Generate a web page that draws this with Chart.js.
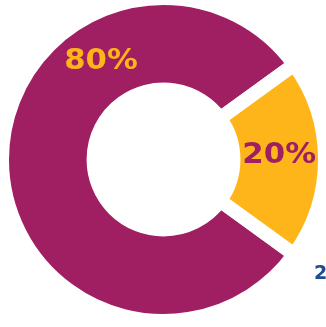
<!DOCTYPE html>
<html><head><meta charset="utf-8">
<script src="https://cdn.jsdelivr.net/npm/chart.js@4/dist/chart.umd.min.js"></script>
<style>
html,body{margin:0;padding:0;width:326px;height:327px;overflow:hidden;background:#fff;}
#wrap{position:absolute;left:-5px;top:-9px;width:337px;height:337px;}
#frag{position:absolute;left:314px;top:261px;font:bold 19px "DejaVu Sans";color:#1C4E91;white-space:nowrap;}
</style></head><body>
<div id="wrap"><canvas id="c"></canvas></div>
<div id="frag">2</div>
<script>
const categories = ['80%', '20%'];
const values = [80, 20];
const valueLabels = ['80%', '20%'];
const sliceColors = ['#A01F62', '#FDB51A'];
const labelColors = ['#FDB51A', '#A01F62'];
const labelAngleFraction = [0.699, 0.476];

const labelPlugin = {
  id: 'sliceLabels',
  afterDatasetsDraw(chart) {
    const ctx = chart.ctx;
    const meta = chart.getDatasetMeta(0);
    meta.data.forEach((arc, i) => {
      const p = arc.getProps(['x', 'y', 'startAngle', 'endAngle', 'innerRadius', 'outerRadius'], true);
      const a = p.startAngle + (p.endAngle - p.startAngle) * labelAngleFraction[i];
      const r = (p.innerRadius + p.outerRadius) / 2;
      const x = p.x + Math.cos(a) * r, y = p.y + Math.sin(a) * r;
      ctx.save();
      ctx.translate(x, y);
      ctx.scale(1.1, 1);
      ctx.font = 'bold 28px "DejaVu Sans"';
      ctx.fillStyle = labelColors[i];
      ctx.textAlign = 'center';
      ctx.textBaseline = 'middle';
      ctx.fillText(valueLabels[i], 0, 0);
      ctx.restore();
    });
  }
};

new Chart(document.getElementById('c'), {
  type: 'doughnut',
  data: {
    labels: categories,
    datasets: [{
      data: values,
      backgroundColor: sliceColors,
      borderColor: '#ffffff',
      borderWidth: 14,
      borderJoinStyle: 'miter',
      borderAlign: 'center',
      offset: 0,
      hoverOffset: 0
    }]
  },
  options: {
    responsive: true,
    maintainAspectRatio: false,
    animation: false,
    rotation: 126,
    cutout: '43.3%',
    layout: { padding: 0 },
    plugins: { legend: { display: false }, tooltip: { enabled: false } }
  },
  plugins: [labelPlugin]
});
</script>
</body></html>
